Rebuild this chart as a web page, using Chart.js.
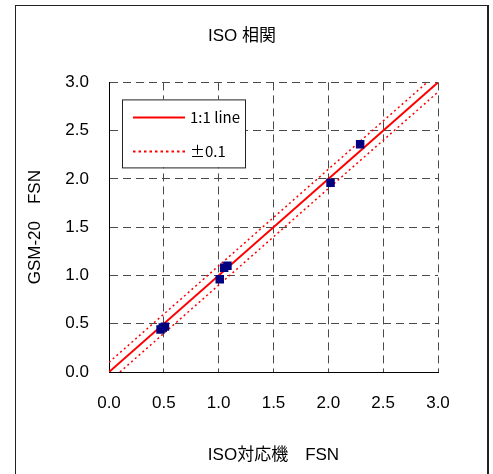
<!DOCTYPE html>
<html>
<head>
<meta charset="utf-8">
<script src="https://cdn.jsdelivr.net/npm/chart.js@4.4.1/dist/chart.umd.min.js"></script>
<style>
html, body { margin: 0; padding: 0; background: #fff; overflow: hidden; width: 493px; height: 474px; }
#frame { position: absolute; left: 15px; top: 5px; width: 471px; height: 500px; border: 1px solid #222; border-right-width: 2px; }
#wrap { position: absolute; left: 0; top: 0; width: 493px; height: 474px; }
</style>
</head>
<body>
<div id="frame"></div>
<div id="wrap"><canvas id="isoChart"></canvas></div>
<script>
// measured pairs: ISO instrument vs GSM-20
const isoValues = [0.47, 0.49, 0.51, 1.01, 1.05, 1.08, 2.02, 2.29];
const gsmValues = [0.44, 0.46, 0.47, 0.96, 1.08, 1.10, 1.96, 2.36];

// reference lines
const unityX = [0, 3.0];
const unityY = [0, 3.0];
const upperX = [0, 2.9];
const upperY = [0.1, 3.0];
const lowerX = [0.1, 3.0];
const lowerY = [0, 2.9];

const legendLabels = ['1:1 line', '\u00b10.1'];
const axisMin = 0;
const axisMax = 3.0;
const tickStep = 0.5;

const FONT = '"Liberation Sans", "Noto Sans CJK JP", sans-serif';
const LEGEND_FONT = '"Noto Sans CJK JP", sans-serif';

function toPoints(xs, ys) {
    return xs.map((x, i) => ({ x: x, y: ys[i] }));
}

// legend box drawn inside the plot, like the original sheet
const boxLegend = {
    id: 'boxLegend',
    afterDatasetsDraw(chart) {
        const ctx = chart.ctx;
        const area = chart.chartArea;
        const x = area.left + 13;
        const y = area.top + 17;
        const w = 123;
        const h = 68;

        ctx.save();
        ctx.fillStyle = '#fff';
        ctx.fillRect(x, y, w, h);
        ctx.strokeStyle = '#222';
        ctx.lineWidth = 1;
        ctx.strokeRect(x + 0.5, y + 0.5, w, h);

        ctx.strokeStyle = '#ff0000';
        ctx.lineWidth = 2;
        ctx.beginPath();
        ctx.moveTo(x + 11, y + 18);
        ctx.lineTo(x + 63, y + 18);
        ctx.stroke();

        ctx.setLineDash([2.5, 3]);
        ctx.beginPath();
        ctx.moveTo(x + 11, y + 52);
        ctx.lineTo(x + 63, y + 52);
        ctx.stroke();
        ctx.setLineDash([]);

        ctx.fillStyle = '#000';
        ctx.font = '15px ' + LEGEND_FONT;
        ctx.textBaseline = 'middle';
        ctx.fillText(legendLabels[0], x + 68, y + 18);
        ctx.fillText(legendLabels[1], x + 68, y + 52);
        ctx.restore();
    }
};

const ctx = document.getElementById('isoChart').getContext('2d');

new Chart(ctx, {
    type: 'scatter',
    data: {
        datasets: [
            {
                label: 'data',
                data: toPoints(isoValues, gsmValues),
                pointStyle: 'rect',
                pointRadius: 6,
                pointBackgroundColor: '#000080',
                pointBorderColor: '#000080',
                pointBorderWidth: 0,
                showLine: false
            },
            {
                label: legendLabels[0],
                data: toPoints(unityX, unityY),
                showLine: true,
                borderColor: '#ff0000',
                borderWidth: 2,
                pointRadius: 0
            },
            {
                label: legendLabels[1],
                data: toPoints(upperX, upperY),
                showLine: true,
                borderColor: '#ff0000',
                borderWidth: 1.5,
                borderDash: [2, 3],
                pointRadius: 0
            },
            {
                label: legendLabels[1],
                data: toPoints(lowerX, lowerY),
                showLine: true,
                borderColor: '#ff0000',
                borderWidth: 1.5,
                borderDash: [2, 3],
                pointRadius: 0
            }
        ]
    },
    options: {
        responsive: true,
        maintainAspectRatio: false,
        animation: false,
        layout: {
            padding: { left: 0, right: 9, top: 0, bottom: 0 }
        },
        plugins: {
            legend: { display: false },
            tooltip: { enabled: false },
            title: {
                display: true,
                text: 'ISO 相関',
                color: '#000',
                font: { family: FONT, size: 17, weight: 'normal' },
                padding: { top: 26, bottom: 36 }
            }
        },
        scales: {
            x: {
                type: 'linear',
                min: axisMin,
                max: axisMax,
                afterFit(scale) { scale.height = 102; },
                ticks: {
                    stepSize: tickStep,
                    padding: 21,
                    color: '#000',
                    font: { family: FONT, size: 17 },
                    callback: v => Number(v).toFixed(1)
                },
                grid: {
                    color: '#4a4a4a',
                    lineWidth: 1,
                    drawTicks: false
                },
                border: { display: true, color: '#000', width: 1, dash: [8, 5] },
                title: {
                    display: true,
                    text: 'ISO対応機　FSN',
                    color: '#000',
                    font: { family: FONT, size: 17 },
                    padding: { top: 0, bottom: 8 }
                }
            },
            y: {
                type: 'linear',
                min: axisMin,
                max: axisMax,
                afterFit(scale) { scale.width = 109; },
                ticks: {
                    stepSize: tickStep,
                    padding: 20,
                    color: '#000',
                    font: { family: FONT, size: 17 },
                    callback: v => Number(v).toFixed(1)
                },
                grid: {
                    color: '#4a4a4a',
                    lineWidth: 1,
                    drawTicks: false
                },
                border: { display: true, color: '#000', width: 1, dash: [8, 5] },
                title: {
                    display: true,
                    text: 'GSM-20　FSN',
                    color: '#000',
                    font: { family: FONT, size: 17 },
                    padding: { top: 25, bottom: 0 }
                }
            },
            // empty spacer on the right so the title centres like the original
            spacer: {
                type: 'linear',
                position: 'right',
                min: axisMin,
                max: axisMax,
                afterFit(scale) { scale.width = 46; },
                ticks: { display: false },
                grid: { display: false, drawOnChartArea: false, drawTicks: false },
                border: { display: false }
            }
        }
    },
    plugins: [boxLegend]
});
</script>
</body>
</html>
